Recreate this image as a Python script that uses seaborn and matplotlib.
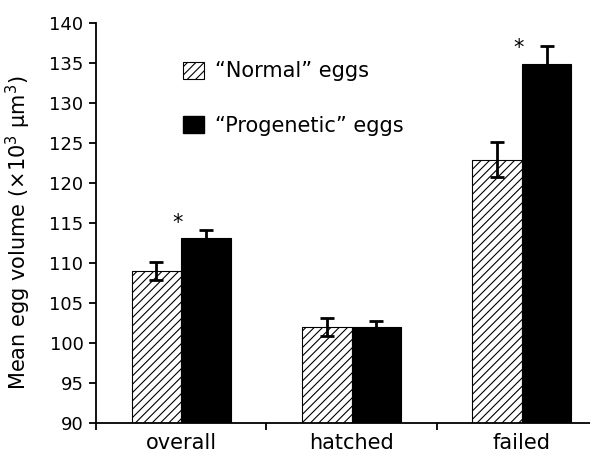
import seaborn as sns
import matplotlib.pyplot as plt
import pandas as pd
from matplotlib.patches import Patch

groups = ["overall", "hatched", "failed"]
egg_types = ["\u201cNormal\u201d eggs", "\u201cProgenetic\u201d eggs"]
normal_mean = [109.0, 102.0, 122.9]
normal_err = [1.15, 1.1, 2.2]
progen_mean = [113.1, 102.0, 134.9]
progen_err = [1.0, 0.8, 2.2]
significant = ["overall", "failed"]
y_ticks = [90, 95, 100, 105, 110, 115, 120, 125, 130, 135, 140]


def make_chart():
    sns.set_style("ticks")
    plt.rcParams["font.family"] = ["DejaVu Sans"]
    plt.rcParams["hatch.linewidth"] = 0.8
    plt.rcParams["text.color"] = "black"
    plt.rcParams["axes.labelcolor"] = "black"
    plt.rcParams["xtick.color"] = "black"
    plt.rcParams["ytick.color"] = "black"
    plt.rcParams["axes.edgecolor"] = "black"

    df = pd.DataFrame({
        "group": groups * 2,
        "type": [egg_types[0]] * 3 + [egg_types[1]] * 3,
        "volume": normal_mean + progen_mean,
        "err": normal_err + progen_err,
    })

    fig = plt.figure(figsize=(5.9, 4.55), dpi=100)
    ax = fig.add_axes([0.1627, 0.0703, 0.8373, 0.8791])

    sns.barplot(data=df, x="group", y="volume", hue="type",
                order=groups, hue_order=egg_types,
                palette=["white", "black"], edgecolor="black",
                linewidth=0.8, width=0.58, errorbar=None, legend=False, ax=ax)

    bars = ax.patches
    normal_bars = bars[:3]
    progen_bars = bars[3:6]
    for p in normal_bars:
        p.set_hatch("////")

    for bar_set, means, errs in [(normal_bars, normal_mean, normal_err),
                                 (progen_bars, progen_mean, progen_err)]:
        xs = [p.get_x() + p.get_width() / 2 for p in bar_set]
        ax.errorbar(xs, means, yerr=errs, fmt="none", ecolor="black",
                    elinewidth=2, capsize=5, capthick=2, zorder=5)

    # significance stars just left of the black bars
    for i, g in enumerate(groups):
        if g in significant:
            ax.text(i - 0.02, progen_mean[i] + 0.7, "*", ha="center", va="bottom",
                    fontsize=15)

    ax.set_ylim(90, 140)
    ax.set_yticks(y_ticks)
    ax.set_xlim(-0.5, 2.4)
    ax.set_xticks([0, 1, 2])
    ax.set_xticklabels(groups)
    ax.set_xticks([-0.5, 0.5, 1.5], minor=True)
    ax.tick_params(axis="x", which="major", length=0, pad=7, labelsize=15)
    ax.tick_params(axis="x", which="minor", length=5, width=1.3, direction="out")
    ax.tick_params(axis="y", length=5, width=1.3, labelsize=13, pad=4)
    ax.set_xlabel("")
    ax.set_ylabel("Mean egg volume (\u00d710$^3$ \u03bcm$^3$)", fontsize=15)
    ax.yaxis.set_label_coords(-0.128, 0.475)
    for s in ["left", "bottom"]:
        ax.spines[s].set_linewidth(1.3)
    sns.despine(ax=ax)

    handles = [Patch(facecolor="white", edgecolor="black", hatch="////", linewidth=0.8),
               Patch(facecolor="black", edgecolor="black")]
    ax.legend(handles, egg_types, loc="upper left", bbox_to_anchor=(0.16, 0.925),
              frameon=False, fontsize=15, handlelength=1.0, handleheight=0.9,
              handletextpad=0.5, labelspacing=1.65, borderaxespad=0)

    fig.savefig("out.png", dpi=100)


if __name__ == "__main__":
    make_chart()
